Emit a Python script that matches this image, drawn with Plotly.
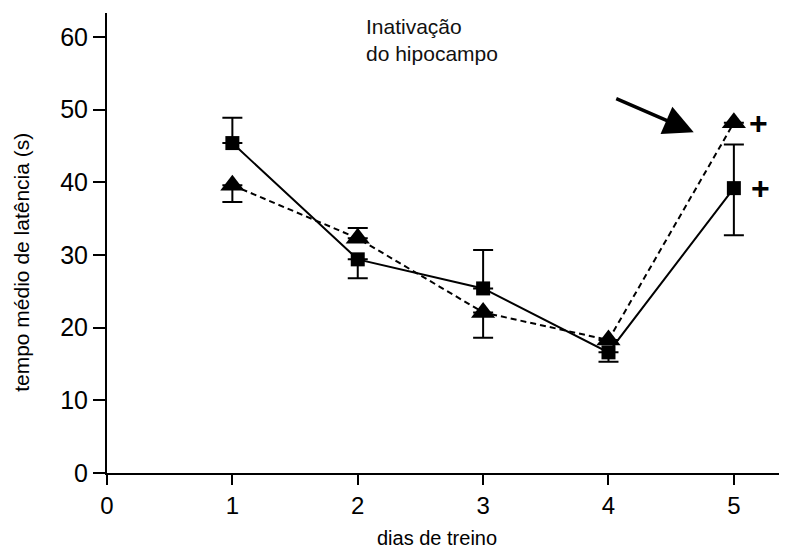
import plotly.graph_objects as go

dias = [1, 2, 3, 4, 5]
quadrado = [45.4, 29.4, 25.4, 16.6, 39.2]
quad_err_plus = [3.5, 0, 5.3, 0, 6.0]
quad_err_minus = [0, 2.6, 0, 1.3, 6.5]
triangulo = [39.6, 32.3, 22.1, 18.3, 48.2]
tri_err_plus = [0, 1.4, 0, 0, 0]
tri_err_minus = [2.3, 0, 3.5, 0, 0]

x_ticks = [0, 1, 2, 3, 4, 5]
y_ticks = [0, 10, 20, 30, 40, 50, 60]

FONT = "Liberation Sans, Arial, sans-serif"

fig = go.Figure()

fig.add_trace(go.Scatter(
    x=dias, y=triangulo, mode="lines+markers",
    line=dict(color="black", width=2, dash="6px,4px"),
    marker=dict(symbol="triangle-up", size=21, color="black"),
    error_y=dict(type="data", symmetric=False, array=tri_err_plus,
                 arrayminus=tri_err_minus, color="black", thickness=2, width=10),
    showlegend=False,
))
fig.add_trace(go.Scatter(
    x=dias, y=quadrado, mode="lines+markers",
    line=dict(color="black", width=2),
    marker=dict(symbol="square", size=14, color="black"),
    error_y=dict(type="data", symmetric=False, array=quad_err_plus,
                 arrayminus=quad_err_minus, color="black", thickness=2, width=10),
    showlegend=False,
))

fig.add_annotation(x=4.68, y=46.9, ax=4.05, ay=51.6, axref="x", ayref="y",
                   xref="x", yref="y", showarrow=True, arrowhead=2,
                   arrowsize=1.7, arrowwidth=3.5, arrowcolor="black", text="")

fig.add_annotation(x=5.2, y=triangulo[4], text="<b>+</b>", showarrow=False,
                   xanchor="center", yanchor="middle",
                   font=dict(family=FONT, size=32, color="black"))
fig.add_annotation(x=5.21, y=quadrado[4], text="<b>+</b>", showarrow=False,
                   xanchor="center", yanchor="middle",
                   font=dict(family=FONT, size=32, color="black"))

fig.add_annotation(xref="paper", yref="paper", x=0.382, y=1.0,
                   text="Inativação<br>do hipocampo", showarrow=False,
                   xanchor="left", yanchor="top", align="left",
                   font=dict(family=FONT, size=21, color="#111"))

# axis titles
fig.add_annotation(xref="paper", yref="paper", x=0.491, y=-0.1685,
                   text="dias de treino", showarrow=False,
                   xanchor="center", yanchor="bottom",
                   font=dict(family=FONT, size=20, color="black"))
fig.add_annotation(xref="paper", yref="paper", x=-0.1265, y=0.459,
                   text="tempo médio de latência (s)", showarrow=False,
                   textangle=-90, xanchor="center", yanchor="middle",
                   font=dict(family=FONT, size=21, color="black"))

fig.update_layout(
    width=771, height=543,
    margin=dict(l=99, r=0, t=5, b=78),
    paper_bgcolor="white", plot_bgcolor="white",
    font=dict(family=FONT, color="black"),
    xaxis=dict(range=[0, 5.36], tickvals=x_ticks, showgrid=False, zeroline=False,
               showline=True, linecolor="black", linewidth=2, automargin=False,
               ticks="outside", ticklen=10, tickwidth=2, tickcolor="black",
               tickfont=dict(size=24)),
    yaxis=dict(range=[0, 63.3], tickvals=y_ticks, showgrid=False, zeroline=False,
               showline=True, linecolor="black", linewidth=2, automargin=False,
               ticks="outside", ticklen=12, tickwidth=2, tickcolor="black",
               tickfont=dict(size=25)),
)

fig.write_html("out.html")
